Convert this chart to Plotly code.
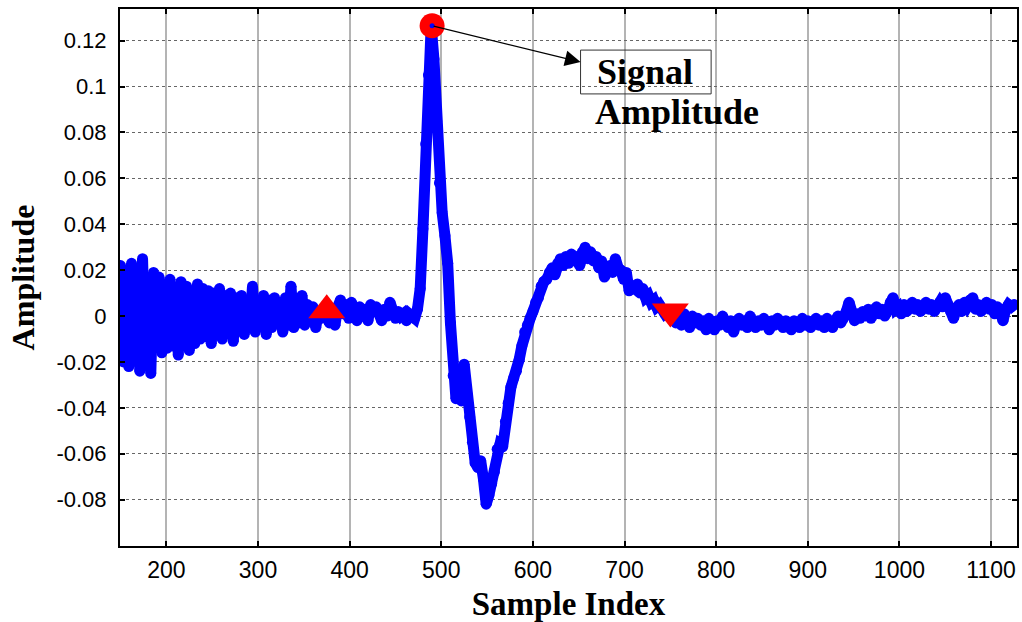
import plotly.graph_objects as go

# ---- data ----
step = 3

noise_a_start = 150
noise_a = [0.022, -0.020, 0.018, -0.022, 0.023, -0.015, 0.020, -0.024, 0.025, -0.018,
           0.015, -0.025, 0.019, -0.012, 0.017, -0.016, 0.014, -0.014, 0.016, -0.013,
           0.012, -0.017, 0.015, -0.011, 0.013, -0.015, 0.011, -0.012, 0.014]

noise_b_start = 237
noise_b = [-0.010, 0.012, -0.009, 0.011, -0.012, 0.010, -0.008, 0.012, -0.010, 0.009,
           -0.007, 0.010, -0.011, 0.008, -0.006, 0.009, -0.008, 0.007]

noise_c_start = 291
noise_c = [-0.005, 0.013, -0.007, 0.006, -0.004, 0.009, -0.008, 0.007, -0.005, 0.008,
           -0.003, 0.006, -0.007, 0.008, -0.004, 0.013, -0.005, 0.007, -0.003, 0.009,
           -0.004, 0.005]

baseline_start = 357
baseline = [-0.002, 0.004, -0.005, 0.002, -0.001, 0.003, 0.001, -0.003, 0.002, -0.004,
            0.004, 0.007, 0.001, 0.005, -0.001, 0.006, 0.002, -0.002, 0.004, 0.000,
            0.003, -0.002, 0.005, 0.002, 0.004, 0.001, -0.002, 0.003, 0.000, 0.006,
            0.001, -0.001, 0.002, 0.000, 0.001, -0.002, 0.001, 0.000, -0.001]

qrs_start = 474
qrs = [0.003, 0.012, 0.038, 0.075, 0.105, 0.1265, 0.112, 0.085, 0.058, 0.045,
       0.035, 0.023, -0.003, -0.026, -0.036, -0.029, -0.037, -0.021, -0.034, -0.044,
       -0.055, -0.064, -0.066, -0.063, -0.071, -0.082]

twave_start = 552
twave = [-0.078, -0.073, -0.068, -0.058, -0.056, -0.057, -0.046, -0.038, -0.031, -0.027,
         -0.024, -0.019, -0.013, -0.007, -0.004, -0.001, 0.002, 0.006, 0.008, 0.013,
         0.015, 0.016, 0.019, 0.021, 0.018, 0.023, 0.025, 0.022, 0.026, 0.023,
         0.027, 0.024, 0.026, 0.022, 0.028, 0.030, 0.025, 0.028, 0.024, 0.026,
         0.021, 0.024, 0.017, 0.020, 0.022, 0.019, 0.025, 0.021, 0.020, 0.016,
         0.019, 0.011, 0.013, 0.012, 0.014, 0.010, 0.012, 0.008, 0.009, 0.006,
         0.007, 0.004, 0.005, 0.003, 0.001, 0.002, 0.001]

tail_start = 753
tail = [0.001, -0.003, -0.001, -0.004, 0.001, -0.002, -0.005, 0.000, -0.003, -0.001,
        -0.004, -0.002, -0.006, -0.001, -0.004, -0.006, -0.002, -0.004, 0.000, -0.003,
        -0.005, -0.002, -0.007, -0.003, -0.001, -0.004, -0.002, -0.005, 0.000, -0.003,
        -0.005, -0.002, -0.004, -0.001, -0.003, -0.006, -0.002, -0.004, -0.001, -0.003,
        -0.005, -0.002, -0.004, -0.006, -0.002, -0.003, -0.005, -0.001, -0.004, -0.002,
        -0.005, -0.003, -0.001, -0.004, -0.002, -0.005, -0.001, -0.003, -0.005, -0.002,
        0.000, -0.003, -0.001, 0.002, 0.006, 0.001, -0.002, 0.001, -0.001, 0.002,
        0.000, 0.003, -0.001, 0.002, 0.004, 0.001, 0.003, 0.000, 0.002, 0.006,
        0.008, 0.003, 0.004, 0.001, 0.005, 0.002, 0.004, 0.006, 0.003, 0.005,
        0.002, 0.004, 0.006, 0.003, 0.005, 0.002, 0.004, 0.006, 0.004, 0.008,
        0.005, 0.002, -0.001, 0.003, 0.005, 0.002, 0.006, 0.004, 0.007, 0.008,
        0.003, 0.005, 0.002, 0.004, 0.006, 0.003, 0.005, 0.001, 0.004, 0.002,
        -0.002, 0.003, 0.005, 0.004, 0.005]

segments = [(noise_a_start, noise_a), (noise_b_start, noise_b), (noise_c_start, noise_c),
            (baseline_start, baseline), (qrs_start, qrs), (twave_start, twave),
            (tail_start, tail)]

# markers
peak_x, peak_y = [490], [0.1265]
onset_x, onset_y = [375], [0.0025]
offset_x, offset_y = [750], [0.002]

x_ticks = [200, 300, 400, 500, 600, 700, 800, 900, 1000, 1100]
y_ticks = [-0.08, -0.06, -0.04, -0.02, 0, 0.02, 0.04, 0.06, 0.08, 0.1, 0.12]
y_ticktext = ["-0.08", "-0.06", "-0.04", "-0.02", "0", "0.02", "0.04", "0.06", "0.08", "0.1", "0.12"]

# ---- build series ----
xs, ys = [], []
for start, vals in segments:
    for i, v in enumerate(vals):
        xs.append(start + step * i)
        ys.append(v)

BLUE = "#0000ff"
RED = "#ff0000"

fig = go.Figure()
fig.add_trace(go.Scatter(x=xs, y=ys, mode="lines+markers",
                         line=dict(color=BLUE, width=11),
                         marker=dict(color=BLUE, size=11, line=dict(width=0)),
                         hoverinfo="skip", showlegend=False))
fig.add_trace(go.Scatter(x=peak_x, y=peak_y, mode="markers",
                         marker=dict(symbol="circle", size=25, color=RED, line=dict(width=0)),
                         showlegend=False))
fig.add_trace(go.Scatter(x=peak_x, y=peak_y, mode="markers",
                         marker=dict(symbol="circle", size=5, color=BLUE, line=dict(width=0)),
                         showlegend=False))
fig.add_trace(go.Scatter(x=onset_x, y=onset_y, mode="markers",
                         marker=dict(symbol="triangle-up", size=32, color=RED, line=dict(width=0)),
                         showlegend=False))
fig.add_trace(go.Scatter(x=offset_x, y=offset_y, mode="markers",
                         marker=dict(symbol="triangle-down", size=32, color=RED, line=dict(width=0)),
                         showlegend=False))

serif = "Times New Roman, Liberation Serif, serif"
sans = "Arial, Liberation Sans, sans-serif"

# arrow from peak to label box
fig.add_annotation(x=652, y=0.1107, ax=peak_x[0], ay=peak_y[0], xref="x", yref="y",
                   axref="x", ayref="y", text="", showarrow=True,
                   arrowhead=2, arrowsize=2.6, arrowwidth=1.2, arrowcolor="black",
                   standoff=0, startstandoff=0)
fig.add_shape(type="rect", x0=652, x1=794.5, y0=0.0968, y1=0.1159, xref="x", yref="y",
              line=dict(color="#333333", width=1), fillcolor="rgba(0,0,0,0)")
fig.add_annotation(x=722, y=0.1063, xref="x", yref="y", text="Signal", showarrow=False,
                   font=dict(family=serif, size=36, color="black", weight="bold"))
fig.add_annotation(x=757, y=0.0889, xref="x", yref="y", text="Amplitude", showarrow=False,
                   font=dict(family=serif, size=36, color="black", weight="bold"))

fig.update_layout(
    width=1022, height=622,
    margin=dict(l=120, r=3, t=9, b=76),
    paper_bgcolor="white", plot_bgcolor="white",
    showlegend=False,
)
fig.update_xaxes(
    range=[149.4, 1128.3], tickvals=x_ticks, ticktext=[str(t) for t in x_ticks],
    showgrid=True, gridcolor="#b4b4b4", gridwidth=1.5,
    showline=True, linecolor="black", linewidth=2, mirror="ticks",
    ticks="inside", ticklen=5, tickcolor="black", tickwidth=1.5,
    tickfont=dict(family=sans, size=23, color="black"),
    ticklabelstandoff=2, zeroline=False,
    title=dict(text="Sample Index", font=dict(family=serif, size=33, color="black", weight="bold"),
               standoff=10),
)
fig.update_yaxes(
    range=[-0.1002, 0.1338], tickvals=y_ticks, ticktext=y_ticktext,
    showgrid=True, gridcolor="#666666", gridwidth=1, griddash="dot",
    showline=True, linecolor="black", linewidth=2, mirror="ticks",
    ticks="inside", ticklen=5, tickcolor="black", tickwidth=1.5,
    tickfont=dict(family=sans, size=22, color="black"),
    ticklabelstandoff=7, zeroline=False,
    title=dict(text="Amplitude", font=dict(family=serif, size=32, color="black", weight="bold"),
               standoff=12),
)

fig.write_html("out.html")
